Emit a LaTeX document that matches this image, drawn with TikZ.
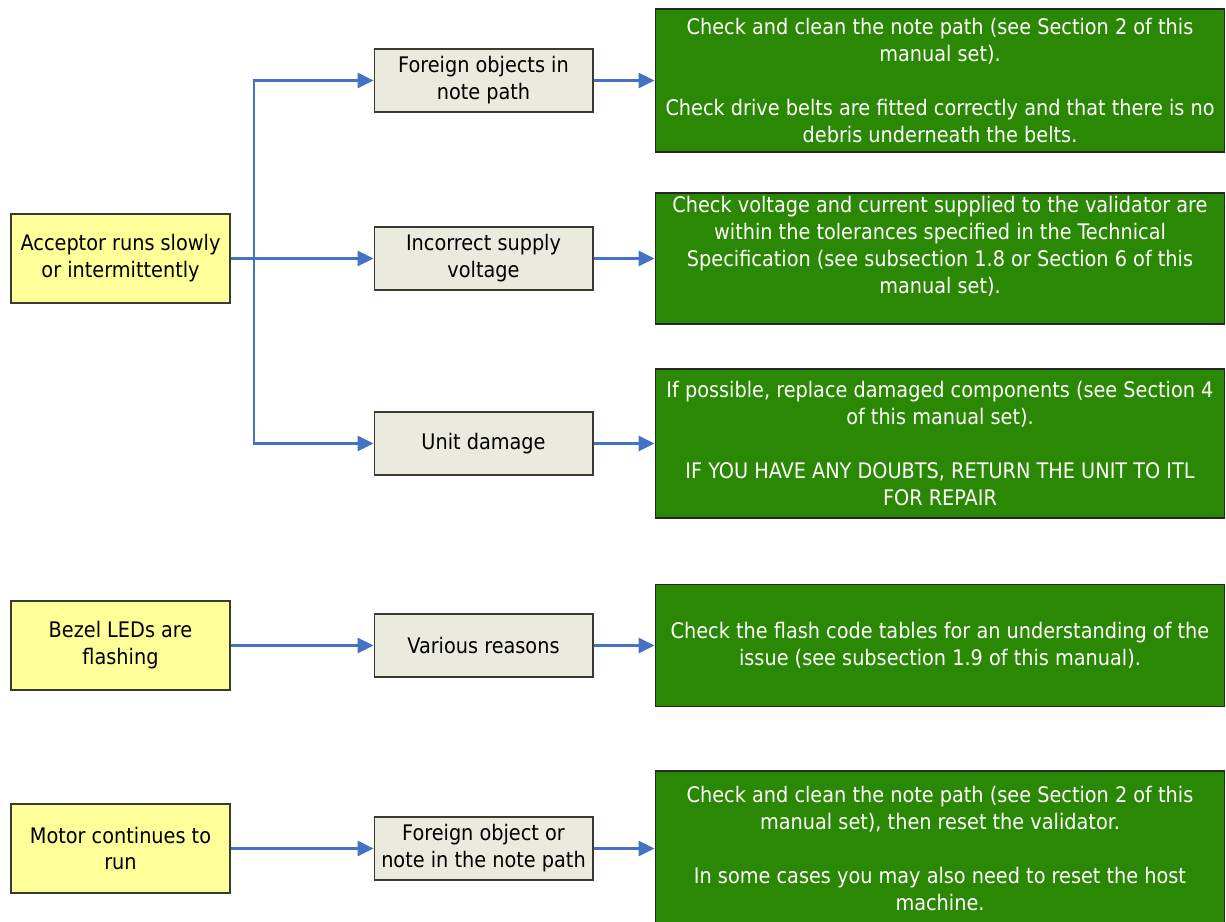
\documentclass[tikz,border=0pt]{standalone}
\usepackage{fontspec}
\setmainfont{DejaVu Sans Condensed}
\usetikzlibrary{arrows.meta,positioning}
\usepackage{xcolor}

\definecolor{symptomfill}{HTML}{FFFF99}
\definecolor{causefill}{HTML}{EAEADF}
\definecolor{remedyfill}{HTML}{2A8804}
\definecolor{flowblue}{HTML}{4472C4}
\definecolor{boxedge}{HTML}{3A3A30}

\tikzset{
  symptom/.style={draw=boxedge, line width=0.6pt, fill=symptomfill, inner sep=2pt,
    minimum width=4.38cm, minimum height=1.78cm, align=center},
  cause/.style={draw=boxedge, line width=0.6pt, fill=causefill, inner sep=2pt,
    minimum width=4.38cm, minimum height=1.26cm, align=center},
  remedy/.style={draw=black!85, line width=0.6pt, fill=remedyfill, text=white,
    inner sep=2pt, minimum width=11.4cm, align=center},
  flow/.style={flowblue, line width=1.6pt},
  flowarrow/.style={flow, -{Triangle[length=0.32cm,width=0.3cm]}},
}

\begin{document}
\begin{tikzpicture}[x=0.02cm, y=-0.02cm,
    every node/.style={font=\fontsize{12.2}{15.3}\selectfont}]
  \useasboundingbox (0,0) rectangle (1226,922);

  % Symptoms (left column)
  \node[symptom] (slow)  at (120.5,258.5) {Acceptor runs slowly\\or intermittently};
  \node[symptom] (leds)  at (120.5,645.5) {Bezel LEDs are\\flashing};
  \node[symptom] (motor) at (120.5,848.5) {Motor continues to\\run};

  % Causes (middle column)
  \node[cause] (foreign) at (483.5,80.5)  {Foreign objects in\\note path};
  \node[cause] (supply)  at (483.5,258.5) {Incorrect supply\\voltage};
  \node[cause] (damage)  at (483.5,443.5) {Unit damage};
  \node[cause] (various) at (483.5,645.5) {Various reasons};
  \node[cause] (jam)     at (483.5,848.5) {Foreign object or\\note in the note path};

  % Remedies (right column)
  \node[remedy, minimum height=2.86cm] (clean) at (940,80.5)
    {Check and clean the note path (see Section 2 of this\\manual set).\\[15.3pt]
     Check drive belts are fitted correctly and that there is no\\debris underneath the belts.};
  % text of this one sits at the top of its box
  \node[remedy, minimum height=2.62cm,
    label={[text=white, align=center, anchor=north, inner sep=2pt]north:%
      Check voltage and current supplied to the validator are\\within the tolerances specified in the Technical\\
      Specification (see subsection 1.8 or Section 6 of this\\manual set).}] (volts) at (940,258.5) {};
  \node[remedy, minimum height=2.98cm] (repair) at (940,443.5)
    {If possible, replace damaged components (see Section 4\\of this manual set).\\[15.3pt]
     IF YOU HAVE ANY DOUBTS, RETURN THE UNIT TO ITL\\FOR REPAIR};
  \node[remedy, minimum height=2.44cm] (flash) at (940,645.5)
    {Check the flash code tables for an understanding of the\\issue (see subsection 1.9 of this manual).};
  \node[remedy, minimum height=3.1cm] (reset) at (940,848.5)
    {Check and clean the note path (see Section 2 of this\\manual set), then reset the validator.\\[15.3pt]
     In some cases you may also need to reset the host\\machine.};

  % Branching from the first symptom
  \coordinate (split) at (254,258.5);
  \draw[flow] (slow.east) -- (split);
  \draw[flowarrow] (split) |- (foreign.west);
  \draw[flowarrow] (split) -- (supply.west);
  \draw[flowarrow] (split) |- (damage.west);

  % Other symptoms
  \draw[flowarrow] (leds.east) -- (various.west);
  \draw[flowarrow] (motor.east) -- (jam.west);

  % Causes to remedies
  \draw[flowarrow] (foreign.east) -- (clean.west);
  \draw[flowarrow] (supply.east) -- (volts.west);
  \draw[flowarrow] (damage.east) -- (repair.west);
  \draw[flowarrow] (various.east) -- (flash.west);
  \draw[flowarrow] (jam.east) -- (reset.west);
\end{tikzpicture}
\end{document}
